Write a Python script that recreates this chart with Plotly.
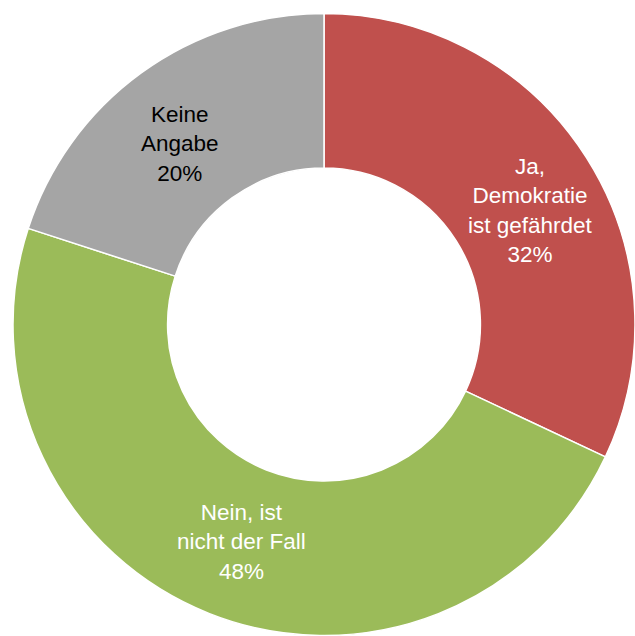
import plotly.graph_objects as go

W, H = 635, 636

labels = ["Ja,<br>Demokratie<br>ist gefährdet", "Nein, ist<br>nicht der Fall", "Keine<br>Angabe"]
values = [32, 48, 20]
colors = ["#C0504D", "#9BBB59", "#A5A5A5"]
text_colors = ["white", "white", "black"]
# label centres in pixels (x from left, y from top)
label_pos = [(530, 210), (241, 542), (180, 144)]

# pie centre and radius in pixels
cx, cy, r = 325, 325, 312

fig = go.Figure()
fig.add_trace(go.Pie(
    labels=labels,
    values=values,
    hole=0.503,
    sort=False,
    direction="clockwise",
    rotation=0,
    marker={"colors": colors, "line": {"color": "white", "width": 1.5}},
    textinfo="none",
    hoverinfo="label+percent",
    domain={"x": [max(0, (cx - r) / W), 1.0],
            "y": [max(0, 1 - (cy + r) / H), min(1, 1 - (cy - r) / H)]},
    showlegend=False,
))

for lab, val, tc, (px, py) in zip(labels, values, text_colors, label_pos):
    fig.add_annotation(
        x=px / W, y=1 - py / H, xref="paper", yref="paper",
        text=f"{lab}<br>{val}%",
        showarrow=False, align="center",
        xanchor="center", yanchor="middle",
        font={"family": "Liberation Sans, Arial", "size": 22.5, "color": tc},
    )

fig.update_layout(
    width=W, height=H,
    margin={"l": 0, "r": 0, "t": 0, "b": 0},
    paper_bgcolor="white",
    plot_bgcolor="white",
    showlegend=False,
)

fig.write_html(
    "out.html",
    config={"displayModeBar": False},
    post_script="document.body.style.margin='0';document.body.style.overflow='hidden';",
)
